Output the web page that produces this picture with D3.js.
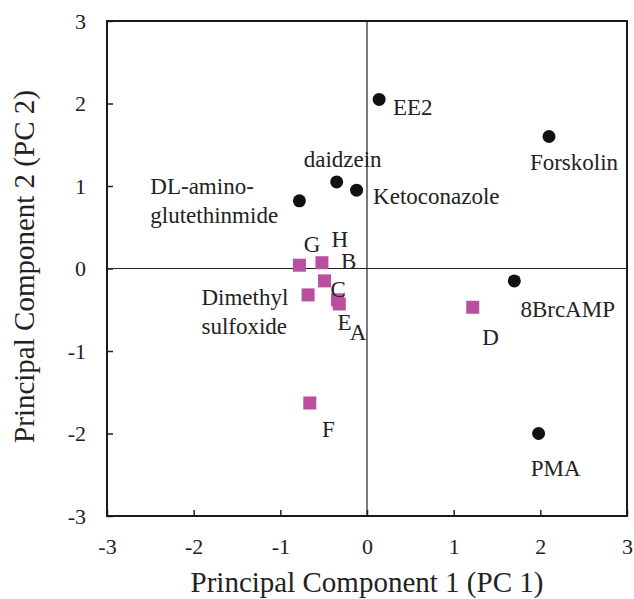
<!DOCTYPE html>
<html>
<head>
<meta charset="utf-8">
<script src="https://cdn.jsdelivr.net/npm/d3@7"></script>
<style>
  body { margin: 0; background: #fff; }
</style>
</head>
<body>
<div id="chart"></div>
<script>
// compounds drawn as black dots
const circleNames = ['EE2', 'Forskolin', 'daidzein', 'Ketoconazole', 'DL-aminoglutethimide', '8BrcAMP', 'PMA'];
const circlePC1 = [0.14, 2.10, -0.35, -0.12, -0.78, 1.70, 1.98];
const circlePC2 = [2.05, 1.60, 1.05, 0.95, 0.82, -0.15, -2.00];

// samples drawn as squares
const squareNames = ['G', 'H', 'C', 'Dimethyl sulfoxide', 'E', 'A', 'D', 'F'];
const squarePC1 = [-0.78, -0.52, -0.49, -0.68, -0.34, -0.32, 1.22, -0.66];
const squarePC2 = [0.04, 0.07, -0.15, -0.32, -0.38, -0.43, -0.47, -1.63];

// text labels, anchored in PC units (start of text, baseline)
const labelText = ['EE2', 'Forskolin', 'Ketoconazole', '8BrcAMP', 'daidzein', 'DL-amino-', 'glutethinmide',
  'G', 'H', 'B', 'C', 'Dimethyl', 'sulfoxide', 'E', 'A', 'D', 'F', 'PMA'];
const labelPC1 = [0.30, 1.88, 0.07, 1.77, -0.73, -2.50, -2.50, -0.73, -0.41, -0.30, -0.42, -1.91, -1.91, -0.34, -0.20, 1.33, -0.52, 1.89];
const labelPC2 = [1.86, 1.19, 0.78, -0.59, 1.23, 0.90, 0.55, 0.20, 0.26, -0.01, -0.35, -0.44, -0.79, -0.75, -0.87, -0.93, -2.04, -2.51];

const ticks = [-3, -2, -1, 0, 1, 2, 3];

const serif = '"Liberation Serif", "Times New Roman", Times, serif';
const width = 634;
const height = 599;
const margin = { top: 21, right: 7, bottom: 83, left: 107 };

const svg = d3.select('#chart')
  .append('svg')
  .attr('width', width)
  .attr('height', height);

const x = d3.scaleLinear()
  .domain([-3, 3])
  .range([margin.left, width - margin.right]);

const y = d3.scaleLinear()
  .domain([-3, 3])
  .range([height - margin.bottom, margin.top]);

// plain hyphen for negatives, like the original
const fmt = d => String(d);

// axes with inward ticks
const xAxis = svg.append('g')
  .attr('transform', `translate(0, ${y(-3)})`)
  .call(d3.axisBottom(x).tickValues(ticks).tickFormat(fmt).tickSizeInner(-6).tickSizeOuter(0).tickPadding(22));

const yAxis = svg.append('g')
  .attr('transform', `translate(${x(-3)}, 0)`)
  .call(d3.axisLeft(y).tickValues(ticks).tickFormat(fmt).tickSizeInner(-6).tickSizeOuter(0).tickPadding(21));

[xAxis, yAxis].forEach(a => {
  a.select('.domain').remove();
  a.attr('font-family', serif).attr('font-size', 22);
  a.selectAll('.tick line').attr('stroke', '#222').attr('stroke-width', 1.5);
  a.selectAll('.tick text').attr('fill', '#222');
});

// zero lines
svg.append('line')
  .attr('x1', x(0)).attr('x2', x(0))
  .attr('y1', y(3)).attr('y2', y(-3))
  .attr('stroke', '#222').attr('stroke-width', 1.2);

svg.append('line')
  .attr('x1', x(-3)).attr('x2', x(3))
  .attr('y1', y(0)).attr('y2', y(0))
  .attr('stroke', '#222').attr('stroke-width', 1.2);

// frame
svg.append('rect')
  .attr('x', x(-3))
  .attr('y', y(3))
  .attr('width', x(3) - x(-3))
  .attr('height', y(-3) - y(3))
  .attr('fill', 'none')
  .attr('stroke', '#1a1a1a')
  .attr('stroke-width', 2);

// black circles
svg.append('g')
  .selectAll('circle')
  .data(d3.zip(circlePC1, circlePC2))
  .enter()
  .append('circle')
    .attr('cx', d => x(d[0]))
    .attr('cy', d => y(d[1]))
    .attr('r', 6.5)
    .attr('fill', '#111');

// magenta squares
const sq = 13;
svg.append('g')
  .selectAll('rect')
  .data(d3.zip(squarePC1, squarePC2))
  .enter()
  .append('rect')
    .attr('x', d => x(d[0]) - sq / 2)
    .attr('y', d => y(d[1]) - sq / 2)
    .attr('width', sq)
    .attr('height', sq)
    .attr('fill', '#b94f9f');

// point labels
svg.append('g')
  .attr('font-family', serif)
  .attr('font-size', 23)
  .attr('fill', '#222')
  .selectAll('text')
  .data(d3.zip(labelText, labelPC1, labelPC2))
  .enter()
  .append('text')
    .attr('x', d => x(d[1]))
    .attr('y', d => y(d[2]))
    .text(d => d[0]);

// axis titles
svg.append('text')
  .attr('x', x(0))
  .attr('y', 592)
  .attr('text-anchor', 'middle')
  .attr('font-family', serif)
  .attr('font-size', 29)
  .attr('fill', '#222')
  .text('Principal Component 1 (PC 1)');

svg.append('text')
  .attr('transform', `translate(34, ${(y(3) + y(-3)) / 2 - 2}) rotate(-90)`)
  .attr('text-anchor', 'middle')
  .attr('font-family', serif)
  .attr('font-size', 29)
  .attr('fill', '#222')
  .text('Principal Component 2 (PC 2)');
</script>
</body>
</html>
